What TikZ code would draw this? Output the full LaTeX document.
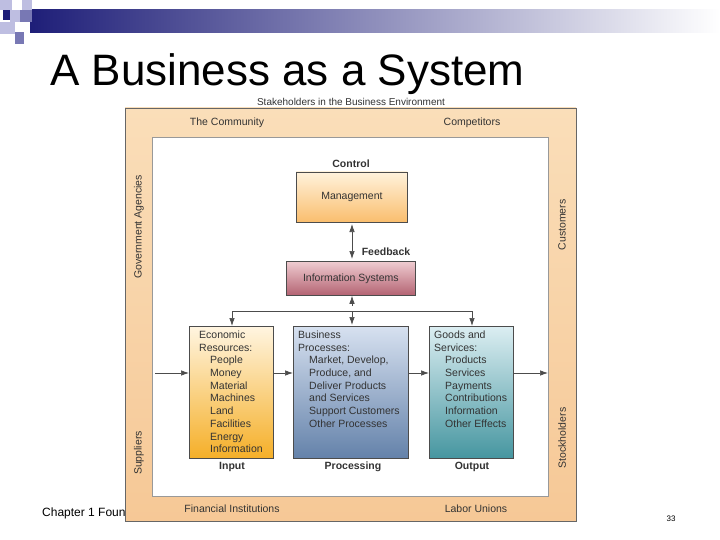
\documentclass[tikz,border=0pt]{standalone}
\usepackage{fontspec}
\setmainfont{Liberation Sans}
\usetikzlibrary{arrows.meta}
\definecolor{navy}{RGB}{30,30,120}
\definecolor{sqa}{RGB}{190,190,225}
\definecolor{sqb}{RGB}{120,120,180}
\definecolor{peach}{RGB}{250,222,185}
\definecolor{peachd}{RGB}{246,200,150}
\tikzset{
  box/.style={draw=black!70, line width=0.8pt},
  txt/.style={font=\fontsize{10.5}{12.7}\selectfont, text=black!80, inner sep=0pt},
  lbl/.style={font=\fontsize{10.5}{12}\selectfont, text=black!80, inner sep=0pt},
  bold/.style={font=\fontsize{10.5}{12}\selectfont\bfseries, text=black!80, inner sep=0pt},
  arr/.style={draw=black!70, line width=0.7pt, -{Latex[length=8pt,width=5.5pt]}},
}
\begin{document}
\begin{tikzpicture}[x=1pt,y=-1pt]
\useasboundingbox (0,0) rectangle (720,540);
\fill[white] (0,0) rectangle (720,540);
% header
\shade[left color=navy, right color=white] (30,10) rectangle (720,33);
\fill[sqa] (0,0) rectangle (12,10);
\fill[sqa] (22,0) rectangle (32,10);
\fill[navy] (3,10) rectangle (10,20);
\fill[sqa] (10,10) rectangle (20,22);
\fill[sqb] (20,10) rectangle (32,22);
\fill[sqa] (0,22) rectangle (15,34);
\fill[sqb] (15,32) rectangle (24,44);
\node[anchor=base west, font=\fontsize{44}{48}\selectfont, inner sep=0pt] (title) at (50,86) {A Business as a System};
\node[anchor=base west, font=\fontsize{12}{14}\selectfont, inner sep=0pt] (chap) at (42,516) {Chapter 1 Foundations};
\node[anchor=base, font=\fontsize{8}{9}\selectfont, inner sep=0pt] (pg) at (671,521) {33};
% frame
\shade[top color=peach, bottom color=peachd, draw=black!60] (125,108) rectangle (576,521);
\fill[white, draw=black!40] (152,137) rectangle (548,496);
\node[lbl, font=\fontsize{10}{12}\selectfont] (stk) at (351,102) {Stakeholders in the Business Environment};
\node[lbl] (comm) at (227,123) {The Community};
\node[lbl] (comp) at (472,123) {Competitors};
\node[lbl] (fin) at (232,509) {Financial Institutions};
\node[lbl] (lab) at (476,509) {Labor Unions};
\node[lbl, rotate=90] (gov) at (139,227) {Government Agencies};
\node[lbl, rotate=90] (cust) at (562,225) {Customers};
\node[lbl, rotate=90] (sup) at (139,453) {Suppliers};
\node[lbl, rotate=90] (stock) at (562,438) {Stockholders};
% management
\shade[top color={rgb,255:red,255;green,242;blue,220}, bottom color={rgb,255:red,250;green,190;blue,110}] (296,172) rectangle (407,222);
\node[box, minimum width=111pt, minimum height=50pt, anchor=north west] (mgmt) at (296,172) {};
\node[lbl] at (mgmt.center) {Management};
\node[bold] (ctrl) at (351,164) {Control};
% info systems
\shade[top color={rgb,255:red,240;green,205;blue,210}, bottom color={rgb,255:red,180;green,100;blue,115}] (286,261) rectangle (415,295);
\node[box, minimum width=129pt, minimum height=34pt, anchor=north west] (info) at (286,261) {};
\node[lbl] at (info.center) {Information Systems};
\node[bold] (fb) at (386,252) {Feedback};
\draw[arr, {Latex[length=8pt,width=5.5pt]}-{Latex[length=8pt,width=5.5pt]}] (352,224) -- (352,259);
% input/processing/output boxes
\shade[top color={rgb,255:red,255;green,245;blue,225}, bottom color={rgb,255:red,245;green,175;blue,40}] (189,326) rectangle (273,458);
\node[box, minimum width=84pt, minimum height=132pt, anchor=north west] (inp) at (189,326) {};
\shade[top color={rgb,255:red,215;green,225;blue,240}, bottom color={rgb,255:red,100;green,130;blue,170}] (293,326) rectangle (408,458);
\node[box, minimum width=115pt, minimum height=132pt, anchor=north west] (proc) at (293,326) {};
\shade[top color={rgb,255:red,220;green,238;blue,242}, bottom color={rgb,255:red,70;green,150;blue,160}] (429,326) rectangle (513,458);
\node[box, minimum width=84pt, minimum height=132pt, anchor=north west] (outp) at (429,326) {};
\node[txt, anchor=north west, align=left] at (199,331) {Economic\\Resources:};
\node[txt, anchor=north west, align=left] at (210,356) {People\\Money\\Material\\Machines\\Land\\Facilities\\Energy\\Information};
\node[txt, anchor=north west, align=left] at (298,331) {Business\\Processes:};
\node[txt, anchor=north west, align=left] at (309,356) {Market, Develop,\\Produce, and\\Deliver Products\\and Services\\Support Customers\\Other Processes};
\node[txt, anchor=north west, align=left] at (434,331) {Goods and\\Services:};
\node[txt, anchor=north west, align=left] at (445,356) {Products\\Services\\Payments\\Contributions\\Information\\Other Effects};
\node[bold] (li) at (232,467) {Input};
\node[bold] (lp) at (353,467) {Processing};
\node[bold] (lo) at (472,467) {Output};
% feedback distribution
\coordinate (t1) at (232,311);
\coordinate (t2) at (472,311);
\coordinate (tm) at (352,311);
\coordinate (tu) at (352,306);
\draw[draw=black!70, line width=0.7pt] (t1) -- (t2);
\draw[arr] (t1) -- (232,326);
\draw[arr] (t2) -- (472,326);
\draw[arr] (tm) -- (352,325);
\draw[arr] (tu) -- (info.south -| tu);
% horizontal flow
\coordinate (in0) at (155,373);
\coordinate (out0) at (548,373);
\draw[arr] (in0) -- (inp.west |- in0);
\draw[arr] (inp.east |- in0) -- (proc.west |- in0);
\draw[arr] (proc.east |- in0) -- (outp.west |- in0);
\draw[arr] (outp.east |- in0) -- (out0);
\end{tikzpicture}
\end{document}
